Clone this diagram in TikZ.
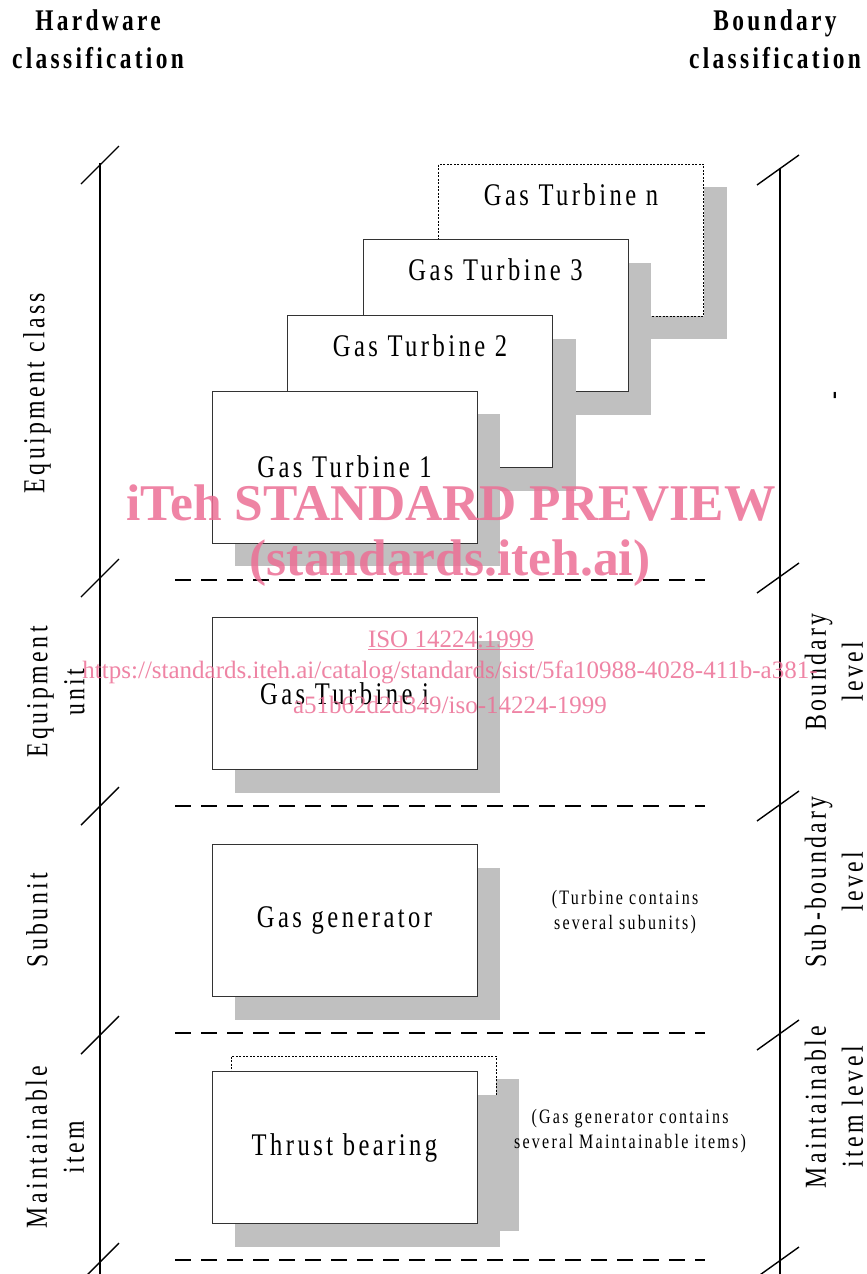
\documentclass[tikz,border=0pt]{standalone}
\usepackage{fontspec}
\setmainfont{Liberation Serif}
\newfontfamily\figfont[FakeStretch=0.78,LetterSpace=11]{Liberation Serif}
\usetikzlibrary{shadows}
\definecolor{shadowgray}{HTML}{C0C0C0}
\definecolor{edgegray}{HTML}{333333}
\definecolor{markpink}{HTML}{EC6F95}

\begin{document}
\begin{tikzpicture}[
  x=1pt, y=-1pt,
  unitbox/.style={rectangle, draw=edgegray, fill=white, line width=1pt, minimum width=265pt, minimum height=152pt, inner sep=0pt, align=center, font=\figfont\fontsize{31.5}{36}\selectfont,
    drop shadow={shadow xshift=23pt, shadow yshift=-23pt, fill=shadowgray, opacity=1}},
  ghostbox/.style={unitbox, draw=black, line width=0.8pt, dash pattern=on 2pt off 1.5pt},
  boxtitle/.style={font=\figfont\fontsize{31.5}{36}\selectfont},
  sidelabel/.style={rotate=90, align=center, font=\figfont\fontsize{30.5}{37}\selectfont},
  headlabel/.style={align=center, font=\figfont\bfseries\fontsize{30}{38}\selectfont},
  note/.style={align=center, font=\figfont\fontsize{20.5}{25}\selectfont},
  levelline/.style={line width=2pt, dash pattern=on 16pt off 10pt},
  axis/.style={line width=1.8pt},
  tick/.style={line width=1.4pt},
  wmtext/.style={text=markpink, opacity=0.85, font=\fontsize{25}{30}\selectfont}
]
  \useasboundingbox (0,0) rectangle (867,1274);

  % headings
  \node[headlabel] (hwhead) at (98,39) {Hardware\\classification};
  \node[headlabel] (bdhead) at (775,39) {Boundary\\classification};

  % equipment class stack
  \node[ghostbox] (gtn) at (571,240) {};
  \node[boxtitle] (gtnt) at (571,195) {Gas Turbine n};
  \node[unitbox] (gt3) at (495.5,315.5) {};
  \node[boxtitle] (gt3t) at (495.5,270) {Gas Turbine 3};
  \node[unitbox] (gt2) at (420,391.5) {};
  \node[boxtitle] (gt2t) at (420,346) {Gas Turbine 2};
  \node[unitbox] (gt1) at (344.5,467) {Gas Turbine 1};

  % lower levels
  \node[unitbox] (gti) at (344.5,693.5) {Gas Turbine i};
  \node[unitbox] (gen) at (344.5,920.5) {Gas generator};
  \node[ghostbox] (tbback) at (363.5,1132) {};
  \node[unitbox] (tb) at (344.5,1147.5) {Thrust bearing};

  \node[note] (gennote) at (625,912) {(Turbine contains\\several subunits)};
  \node[note] (tbnote) at (630,1131) {(Gas generator contains\\several Maintainable items)};

  % level separators
  \foreach \yy in {580,806,1033,1260}
    \draw[levelline] (175,\yy) -- (705,\yy);

  % hardware axis
  \draw[axis] (100,163) -- (100,1274);
  \foreach \yy in {165,578,806,1035,1262}
    \draw[tick] (81,\yy+19) -- (119,\yy-19);

  % boundary axis
  \draw[axis] (780,168) -- (780,1274);
  \foreach \yy in {170,578,806,1035,1262}
    \draw[tick] (757,\yy+15) -- (799,\yy-15);

  \node[sidelabel] (eqclass) at (37,393) {Equipment class};
  \node[sidelabel] (equnit) at (56,692) {Equipment\\unit};
  \node[sidelabel] (subunit) at (37,920) {Subunit};
  \node[sidelabel] (mitem) at (55,1147) {Maintainable\\item};

  \node[sidelabel] (dash) at (838,396) {-};
  \node[sidelabel] (bdlevel) at (834,672) {Boundary\\level};
  \node[sidelabel] (sblevel) at (834,882) {Sub-boundary\\level};
  \node[sidelabel] (milevel) at (834,1107) {Maintainable\\item level};

  % watermark
  \node[wmtext, font=\bfseries\fontsize{51.5}{55}\selectfont] (wm1) at (451,503) {iTeh STANDARD PREVIEW};
  \node[wmtext, font=\bfseries\fontsize{51.5}{55}\selectfont] (wm2) at (450,563) {(standards.iteh.ai)};
  \node[wmtext] (wm3) at (451,640) {\underline{ISO 14224:1999}};
  \node[wmtext] (wm4) at (450,672) {https://standards.iteh.ai/catalog/standards/sist/5fa10988-4028-411b-a381-};
  \node[wmtext] (wm5) at (450,705) {a51b62d2d349/iso-14224-1999};
\end{tikzpicture}
\end{document}
